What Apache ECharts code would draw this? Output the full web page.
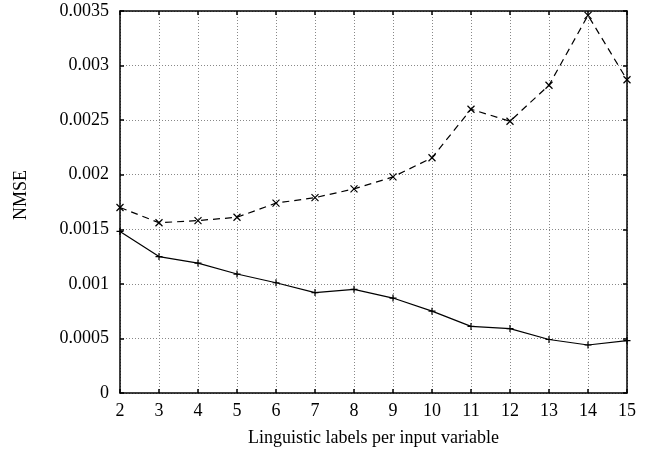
<!DOCTYPE html>
<html><head><meta charset="utf-8">
<script src="https://cdn.jsdelivr.net/npm/echarts@6/dist/echarts.min.js"></script>
<style>html,body{margin:0;padding:0;background:#fff}#c{width:652px;height:449px}</style>
</head><body><div id="c"></div>
<script>
var labelsPerVar = [2,3,4,5,6,7,8,9,10,11,12,13,14,15];
var dashedSeries = [0.00170,0.00156,0.00158,0.00161,0.00174,0.00179,0.00187,0.00198,0.002155,0.00260,0.00249,0.00282,0.00346,0.00287];
var solidSeries = [0.00148,0.00125,0.00119,0.00109,0.00101,0.00092,0.00095,0.00087,0.00075,0.00061,0.00059,0.00049,0.00044,0.00048];
var yTicks = [0,0.0005,0.001,0.0015,0.002,0.0025,0.003,0.0035];

function pairs(xs, ys){ return xs.map(function(x,i){return [x, ys[i]];}); }
var font = '"Liberation Serif", "DejaVu Serif", serif';
var crossX = 'path://M0,0L10,10M10,0L0,10';
var crossPlus = 'path://M5,0L5,10M0,5L10,5';

var chart = echarts.init(document.getElementById('c'), null, {renderer:'canvas'});
var splitStyle = {show:true, lineStyle:{color:'#888', type:[1,2], width:1}};
chart.setOption({
  animation:false,
  backgroundColor:'#fff',
  grid:{left:120, right:25, top:11, bottom:56, containLabel:false, outerBoundsMode:'none'},
  xAxis:[{
    type:'value', min:2, max:15, interval:1, position:'bottom',
    name:'Linguistic labels per input variable', nameLocation:'middle', nameGap:36,
    nameTextStyle:{fontFamily:font, fontSize:18, color:'#000'},
    axisLine:{show:true, onZero:false, lineStyle:{color:'#000', width:1.5}},
    axisTick:{show:true, inside:true, length:4, lineStyle:{color:'#000', width:1.5}},
    axisLabel:{fontFamily:font, fontSize:18, color:'#000', margin:9},
    splitLine:splitStyle
  },{
    type:'value', min:2, max:15, interval:1, position:'top',
    axisLine:{show:true, onZero:false, lineStyle:{color:'#000', width:1.5}},
    axisTick:{show:true, inside:true, length:4, lineStyle:{color:'#000', width:1.5}},
    axisLabel:{show:false}, splitLine:{show:false}
  }],
  yAxis:[{
    type:'value', min:0, max:0.0035, interval:0.0005, position:'left',
    name:'NMSE', nameLocation:'middle', nameGap:82, nameRotate:90,
    nameTextStyle:{fontFamily:font, fontSize:18, color:'#000', padding:[0,0,8,14]},
    axisLine:{show:true, onZero:false, lineStyle:{color:'#000', width:1.5}},
    axisTick:{show:true, inside:true, length:4, lineStyle:{color:'#000', width:1.5}},
    axisLabel:{fontFamily:font, fontSize:18, color:'#000', margin:11,
      formatter:function(v){ var t = yTicks.find(function(k){return Math.abs(k-v)<1e-9;}); return t===undefined? '' : String(t);} },
    splitLine:splitStyle
  },{
    type:'value', min:0, max:0.0035, interval:0.0005, position:'right',
    axisLine:{show:true, onZero:false, lineStyle:{color:'#000', width:1.5}},
    axisTick:{show:true, inside:true, length:4, lineStyle:{color:'#000', width:1.5}},
    axisLabel:{show:false}, splitLine:{show:false}
  }],
  series:[{
    type:'line', xAxisIndex:0, yAxisIndex:0,
    data:pairs(labelsPerVar, dashedSeries),
    lineStyle:{color:'#000', width:1.2, type:[7,5]},
    symbol:crossX, symbolSize:7, showAllSymbol:true,
    itemStyle:{color:'transparent', borderColor:'#000', borderWidth:1.2}
  },{
    type:'line', xAxisIndex:0, yAxisIndex:0,
    data:pairs(labelsPerVar, solidSeries),
    lineStyle:{color:'#000', width:1.2, type:'solid'},
    symbol:crossPlus, symbolSize:7, showAllSymbol:true,
    itemStyle:{color:'transparent', borderColor:'#000', borderWidth:1.2}
  }]
});
</script></body></html>
